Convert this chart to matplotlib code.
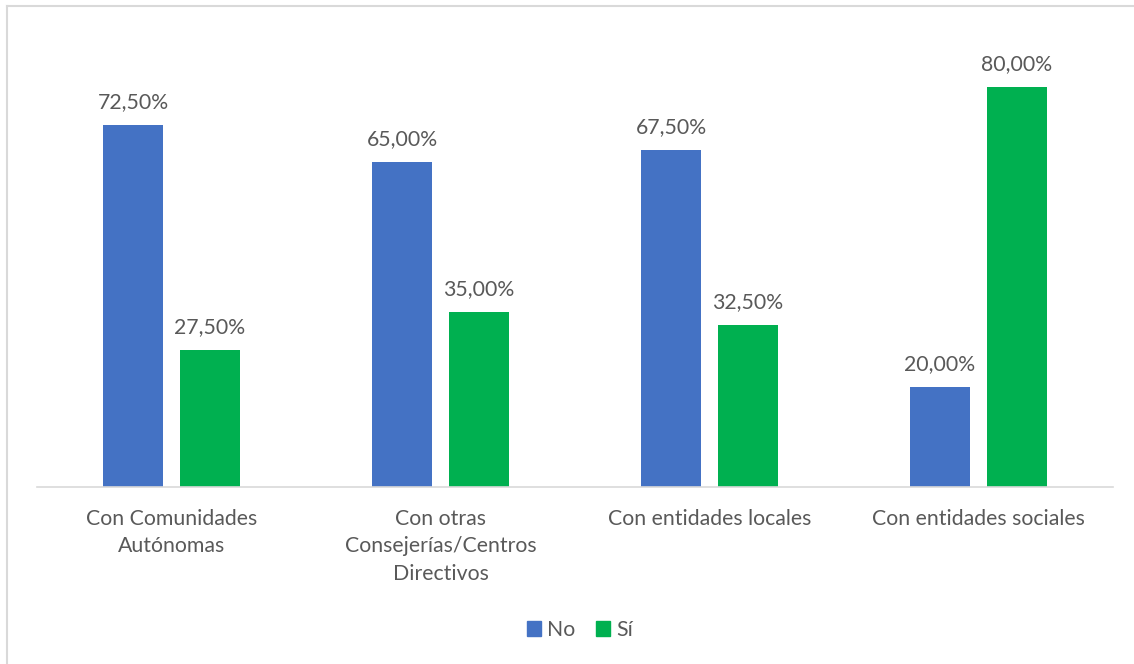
import matplotlib.pyplot as plt
import numpy as np
from matplotlib.lines import Line2D
from matplotlib.patches import Patch

# Data
categories = ['Con Comunidades\nAutónomas', 'Con otras\nConsejerías/Centros\nDirectivos',
              'Con entidades locales', 'Con entidades sociales']
no_vals = [72.5, 65.0, 67.5, 20.0]
si_vals = [27.5, 35.0, 32.5, 80.0]

blue = '#4472C4'
green = '#00B050'
txt = '#595959'

plt.rcParams['font.family'] = ['Lato', 'DejaVu Sans']

fig = plt.figure(figsize=(11.34, 6.64), dpi=100)
ax = fig.add_axes([37 / 1134, 177 / 664, 1076 / 1134, 450 / 664])

x = np.arange(len(categories))
w = 0.223
gap = 0.063
b1 = ax.bar(x - (w + gap) / 2, no_vals, w, color=blue, label='No')
b2 = ax.bar(x + (w + gap) / 2, si_vals, w, color=green, label='Sí')

for bars, vals in ((b1, no_vals), (b2, si_vals)):
    for r, v in zip(bars, vals):
        ax.annotate(f'{v:.2f}%'.replace('.', ','), (r.get_x() + r.get_width() / 2, v),
                    xytext=(0, 9), textcoords='offset points', ha='center', va='bottom',
                    fontsize=15.3, color=txt)

ax.set_xlim(-0.5, 3.5)
ax.set_ylim(0, 90)
ax.set_yticks([])
ax.set_xticks(x)
ax.set_xticklabels(categories, fontsize=15.3, color=txt, linespacing=1.45, va='top')
ax.tick_params(axis='x', length=0, pad=16)
for s in ['top', 'right', 'left']:
    ax.spines[s].set_visible(False)
ax.spines['bottom'].set_color('#D9D9D9')
ax.spines['bottom'].set_linewidth(1.2)

handles = [Patch(color=blue, label='No'), Patch(color=green, label='Sí')]
fig.legend(handles=handles, loc='center', bbox_to_anchor=(580 / 1134, 1 - 630 / 664),
           ncol=2, frameon=False, fontsize=15.3, handlelength=0.65, handleheight=0.65,
           handletextpad=0.3, columnspacing=1.0, labelcolor=txt)

# outer border (left and top only visible)
fig.add_artist(Line2D([7 / 1134, 7 / 1134], [0, 1 - 6 / 664], color='#D9D9D9', lw=1.5,
                      transform=fig.transFigure))
fig.add_artist(Line2D([7 / 1134, 1], [1 - 6 / 664, 1 - 6 / 664], color='#D9D9D9', lw=1.5,
                      transform=fig.transFigure))

fig.savefig('out.png', dpi=100)
